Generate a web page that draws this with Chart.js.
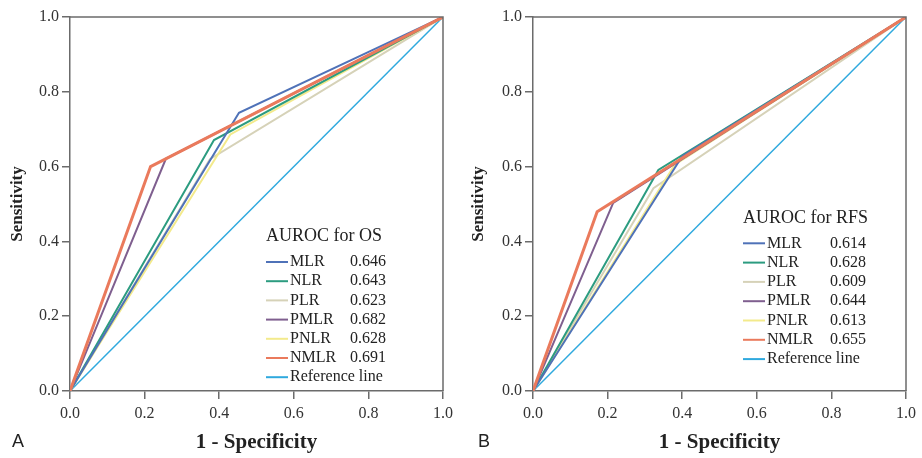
<!DOCTYPE html>
<html>
<head>
<meta charset="utf-8">
<script src="https://cdn.jsdelivr.net/npm/chart.js@4.4.1/dist/chart.umd.min.js"></script>
<style>
html, body { margin: 0; padding: 0; background: #fff; }
#wrap { position: relative; width: 922px; height: 458px; }
.box { position: absolute; top: 0; width: 461px; height: 458px; }
</style>
</head>
<body>
<div id="wrap">
  <div class="box" style="left:0"><canvas id="chartOS"></canvas></div>
  <div class="box" style="left:461px"><canvas id="chartRFS"></canvas></div>
</div>
<script>
const markers = ['MLR', 'NLR', 'PLR', 'PMLR', 'PNLR', 'NMLR'];
const colors = ['#4f72b8', '#2c9c80', '#d6d2b8', '#7f5f8f', '#f3ea8c', '#ea7a5c'];
const refColor = '#2fa9de';

// AUROC values shown in the legends
const aurocOS = [0.646, 0.643, 0.623, 0.682, 0.628, 0.691];
const aurocRFS = [0.614, 0.628, 0.609, 0.644, 0.613, 0.655];

// cut-off point of each curve (1 - specificity, sensitivity)
const fprOS = [0.453, 0.386, 0.375, 0.257, 0.430, 0.216];
const sensOS = [0.744, 0.671, 0.620, 0.621, 0.686, 0.600];
const fprRFS = [0.400, 0.336, 0.323, 0.215, 0.380, 0.172];
const sensRFS = [0.628, 0.591, 0.542, 0.503, 0.605, 0.479];

const ticks = [0, 0.2, 0.4, 0.6, 0.8, 1.0];
const drawOrder = [2, 3, 5, 1, 4, 0];

const serif = '"Liberation Serif", "Times New Roman", serif';

function buildDatasets(fpr, sens) {
  const sets = markers.map((m, i) => ({
    label: m,
    data: [{ x: 0, y: 0 }, { x: fpr[i], y: sens[i] }, { x: 1, y: 1 }],
    borderColor: colors[i],
    borderWidth: m === 'NMLR' ? 3 : 2,
    order: drawOrder[i]
  }));
  sets.push({
    label: 'Reference line',
    data: [{ x: 0, y: 0 }, { x: 1, y: 1 }],
    borderColor: refColor,
    borderWidth: 1.5,
    order: 6
  });
  return sets;
}

// box around the plot + AUROC legend + panel letter
const decor = {
  id: 'decor',
  afterDraw(chart, args, opts) {
    const { ctx, chartArea: a } = chart;
    ctx.save();
    ctx.strokeStyle = '#6b6b6b';
    ctx.lineWidth = 1.5;
    ctx.beginPath();
    ctx.moveTo(a.left, a.top);
    ctx.lineTo(a.right, a.top);
    ctx.lineTo(a.right, a.bottom);
    ctx.stroke();

    ctx.fillStyle = '#222';
    ctx.textBaseline = 'middle';
    ctx.textAlign = 'left';
    ctx.font = '18px ' + serif;
    ctx.fillText(opts.title, opts.x, opts.titleY);

    ctx.font = '16px ' + serif;
    chart.data.datasets.forEach((ds, i) => {
      const y = opts.rowY + i * opts.rowGap;
      ctx.strokeStyle = ds.borderColor;
      ctx.lineWidth = 2;
      ctx.beginPath();
      ctx.moveTo(opts.x, y);
      ctx.lineTo(opts.x + 22, y);
      ctx.stroke();
      ctx.fillStyle = '#222';
      ctx.fillText(ds.label, opts.x + 24, y);
      if (i < opts.values.length) {
        ctx.fillText(opts.values[i].toFixed(3), opts.x + opts.valueOffset, y);
      }
    });

    ctx.font = '18px "Liberation Sans", Arial, sans-serif';
    ctx.fillText(opts.letter, opts.letterX, 442);
    ctx.restore();
  }
};

function axis(title, isX, size) {
  return {
    type: 'linear',
    min: 0,
    max: 1,
    afterBuildTicks: s => { s.ticks = ticks.map(v => ({ value: v })); },
    afterFit: s => { if (isX) s.height = size; else s.width = size; },
    ticks: {
      callback: v => v.toFixed(1),
      color: '#333',
      font: { family: serif, size: 16 },
      padding: isX ? 5 : 3
    },
    grid: { drawOnChartArea: false, drawTicks: true, tickLength: 8, color: '#6b6b6b', lineWidth: 1.5 },
    border: { display: true, color: '#6b6b6b', width: 1.5 },
    title: {
      display: true,
      text: title,
      color: '#222',
      font: { family: serif, size: isX ? 21 : 17, weight: 'bold' },
      padding: isX ? { top: 0, bottom: 3 } : { top: 7, bottom: 0 }
    }
  };
}

function makeChart(id, fpr, sens, legendOpts, yWidth, padRight) {
  return new Chart(document.getElementById(id), {
    type: 'line',
    data: { datasets: buildDatasets(fpr, sens) },
    options: {
      responsive: true,
      maintainAspectRatio: false,
      animation: false,
      parsing: true,
      elements: { point: { radius: 0 }, line: { tension: 0 } },
      layout: { padding: { left: 0, right: padRight, top: 17, bottom: 0 } },
      scales: {
        x: axis('1 - Specificity', true, 67),
        y: axis('Sensitivity', false, yWidth)
      },
      plugins: {
        legend: { display: false },
        tooltip: { enabled: false },
        decor: legendOpts
      }
    },
    plugins: [decor]
  });
}

makeChart('chartOS', fprOS, sensOS, {
  title: 'AUROC for OS', values: aurocOS,
  x: 266, titleY: 236, rowY: 262, rowGap: 19.2, valueOffset: 84,
  letter: 'A', letterX: 12
}, 70, 18);

makeChart('chartRFS', fprRFS, sensRFS, {
  title: 'AUROC for RFS', values: aurocRFS,
  x: 282, titleY: 218.5, rowY: 243.3, rowGap: 19.3, valueOffset: 87,
  letter: 'B', letterX: 17
}, 72, 16);
</script>
</body>
</html>
